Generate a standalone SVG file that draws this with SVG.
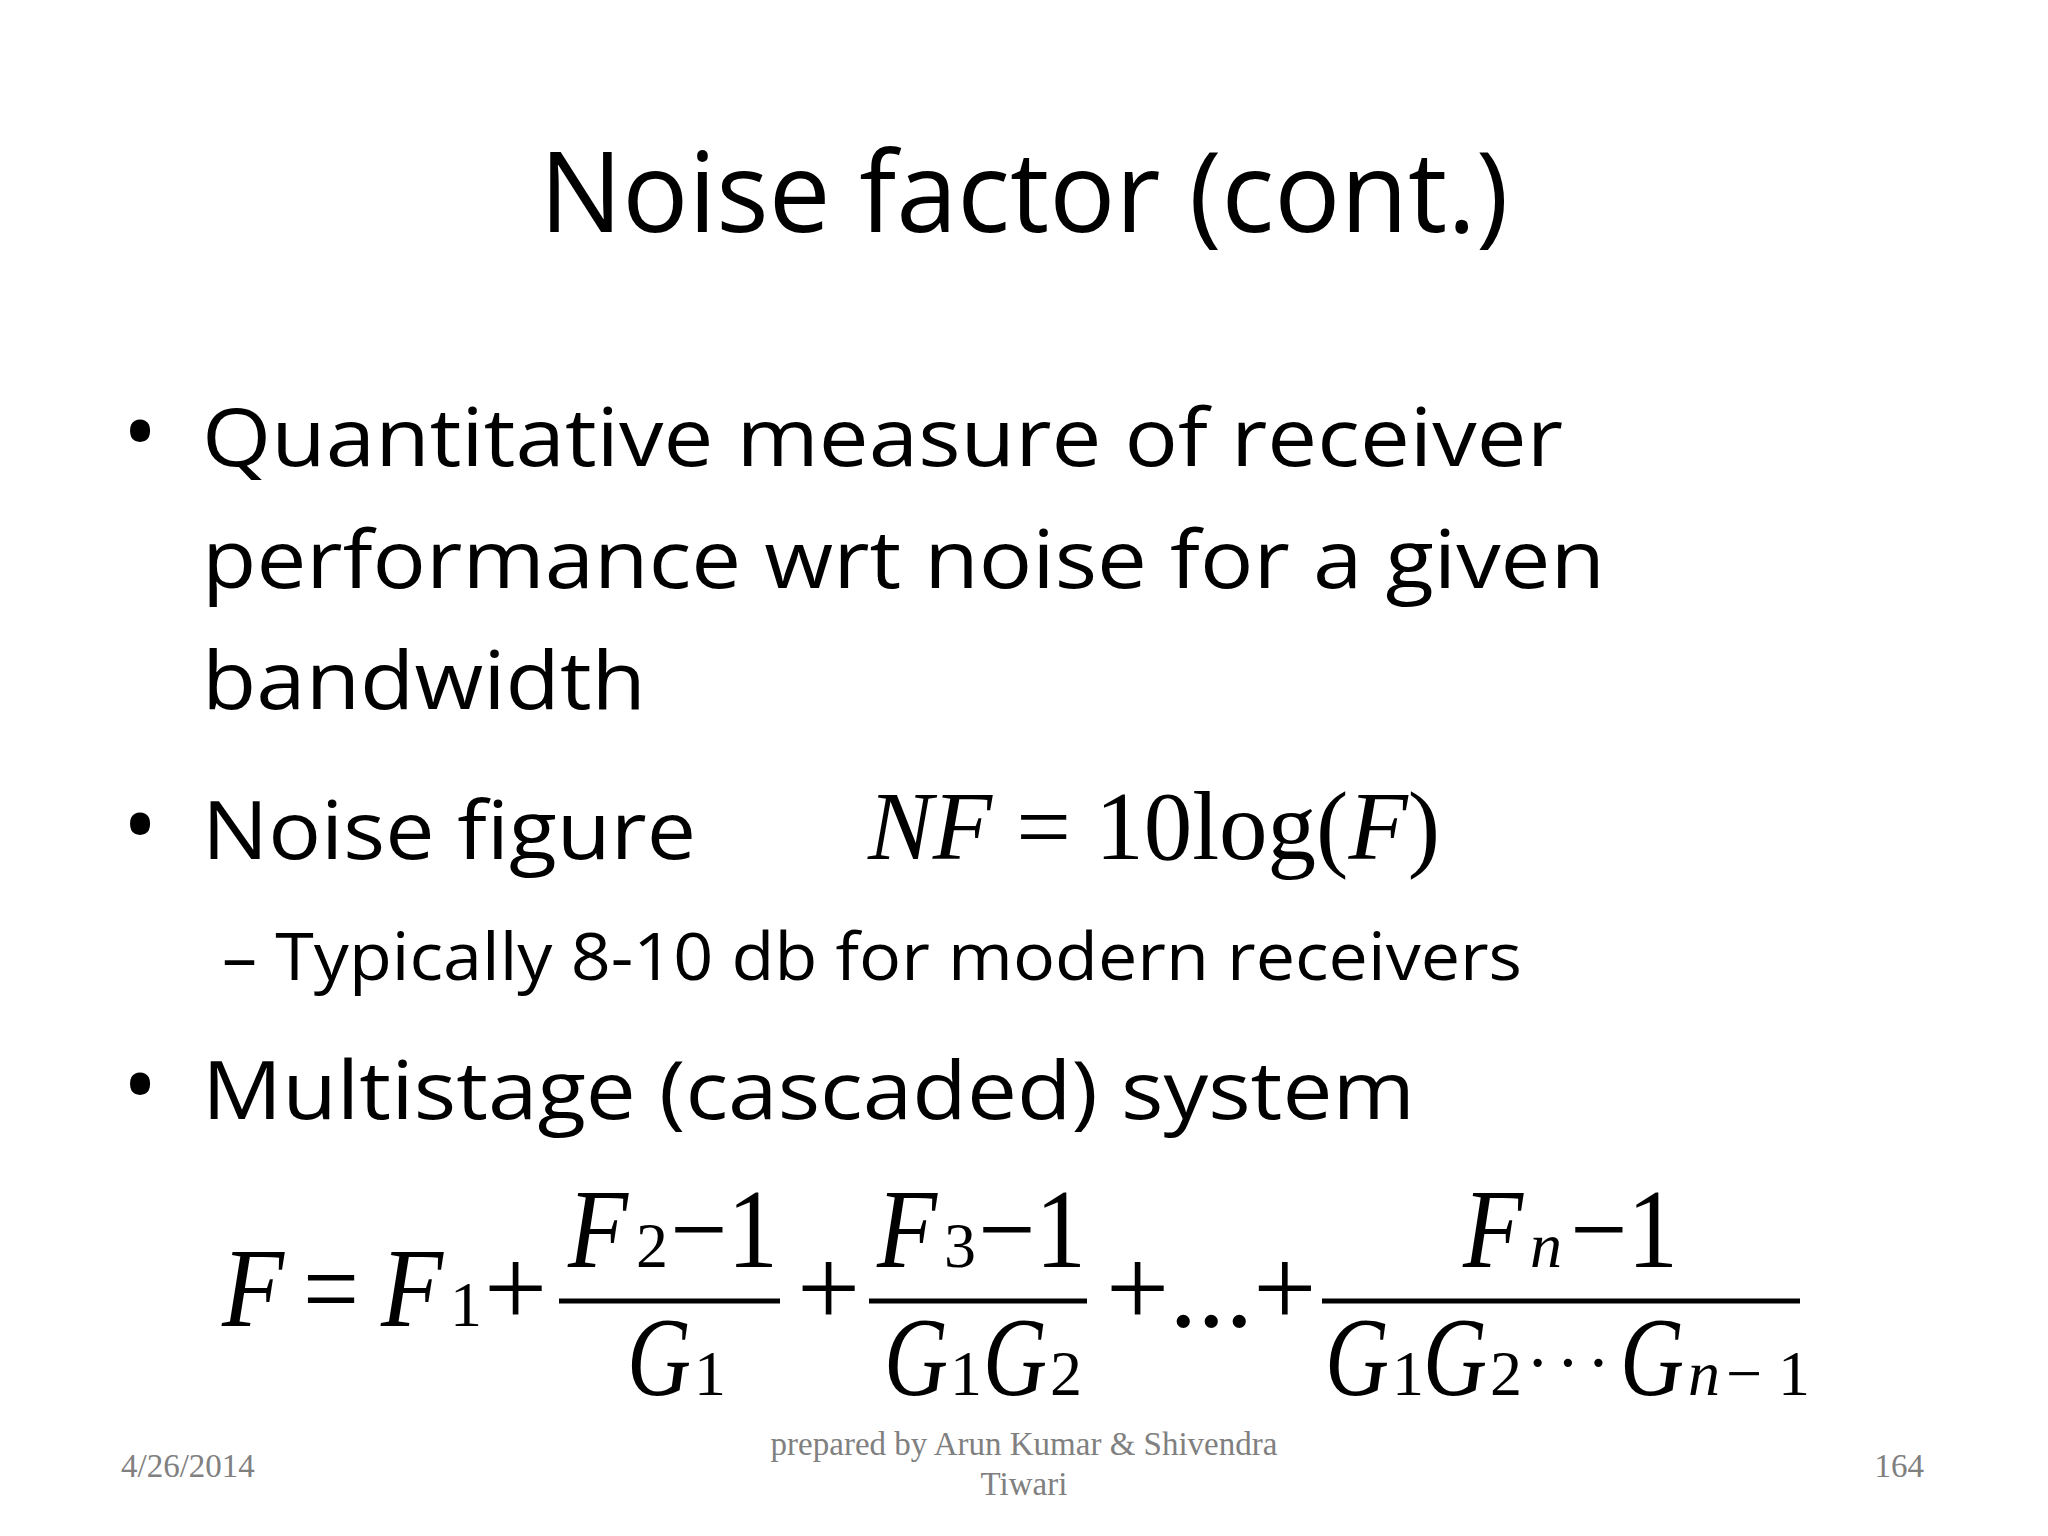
<svg xmlns="http://www.w3.org/2000/svg" width="2048" height="1536" viewBox="0 0 2048 1536">
<style>
.t{font-family:"Open Sans","Liberation Sans",sans-serif;fill:#000}
.m{font-family:"Liberation Serif",serif;fill:#000}
.i{font-style:italic}
.f{font-family:"Liberation Serif",serif;fill:#808080;font-size:33px}
</style>
<rect width="2048" height="1536" fill="#fff"/>
<g id="title"><text class="t" x="1024" y="232" font-size="112" text-anchor="middle" textLength="969" lengthAdjust="spacingAndGlyphs">Noise factor (cont.)</text></g>
<g id="bullets">
<text class="t" x="122" y="466" font-size="96">•</text>
<text class="t" x="202" y="466" font-size="80" textLength="1361" lengthAdjust="spacingAndGlyphs">Quantitative measure of receiver</text>
<text class="t" x="202" y="588" font-size="80" textLength="1403" lengthAdjust="spacingAndGlyphs">performance wrt noise for a given</text>
<text class="t" x="202" y="709" font-size="80" textLength="444" lengthAdjust="spacingAndGlyphs">bandwidth</text>
<text class="t" x="122" y="859" font-size="96">•</text>
<text class="t" x="202" y="859" font-size="80" textLength="494" lengthAdjust="spacingAndGlyphs">Noise figure</text>
<text class="t" x="222" y="980" font-size="66" textLength="1300" lengthAdjust="spacingAndGlyphs">– Typically 8-10 db for modern receivers</text>
<text class="t" x="122" y="1119" font-size="96">•</text>
<text class="t" x="202" y="1119" font-size="80" textLength="1213" lengthAdjust="spacingAndGlyphs">Multistage (cascaded) system</text>
</g>
<g id="nf"><text class="m" x="868" y="859" font-size="98" textLength="572" lengthAdjust="spacingAndGlyphs"><tspan class="i">NF</tspan> = 10log(<tspan class="i">F</tspan>)</text></g>
<g id="formula" font-size="112">
<text class="m i" x="222" y="1326" textLength="62" lengthAdjust="spacingAndGlyphs">F</text>
<text class="m" x="303" y="1326" textLength="56" lengthAdjust="spacingAndGlyphs">=</text>
<text class="m i" x="381" y="1326" textLength="62" lengthAdjust="spacingAndGlyphs">F</text>
<text class="m" x="450" y="1326" font-size="64">1</text>
<text class="m" x="484" y="1326">+</text>
<text class="m i" x="568" y="1267" textLength="60" lengthAdjust="spacingAndGlyphs">F</text>
<text class="m" x="636" y="1267" font-size="64">2</text>
<text class="m" x="670" y="1267" textLength="108" lengthAdjust="spacingAndGlyphs">−1</text>
<line x1="559" y1="1301" x2="780" y2="1301" stroke="#000" stroke-width="5"/>
<text class="m i" x="627" y="1395" textLength="64" lengthAdjust="spacingAndGlyphs">G</text>
<text class="m" x="694" y="1395" font-size="64">1</text>
<text class="m" x="797" y="1326">+</text>
<text class="m i" x="877" y="1267" textLength="60" lengthAdjust="spacingAndGlyphs">F</text>
<text class="m" x="944" y="1267" font-size="64">3</text>
<text class="m" x="978" y="1267" textLength="108" lengthAdjust="spacingAndGlyphs">−1</text>
<line x1="869" y1="1301" x2="1087" y2="1301" stroke="#000" stroke-width="5"/>
<text class="m i" x="884" y="1395" textLength="64" lengthAdjust="spacingAndGlyphs">G</text>
<text class="m" x="950" y="1395" font-size="64">1</text>
<text class="m i" x="983" y="1395" textLength="64" lengthAdjust="spacingAndGlyphs">G</text>
<text class="m" x="1050" y="1395" font-size="64">2</text>
<text class="m" x="1106" y="1326">+...+</text>
<text class="m i" x="1463" y="1267" textLength="60" lengthAdjust="spacingAndGlyphs">F</text>
<text class="m i" x="1530" y="1267" font-size="64">n</text>
<text class="m" x="1570" y="1267" textLength="108" lengthAdjust="spacingAndGlyphs">−1</text>
<line x1="1322" y1="1301" x2="1800" y2="1301" stroke="#000" stroke-width="5"/>
<text class="m i" x="1325" y="1395" textLength="64" lengthAdjust="spacingAndGlyphs">G</text>
<text class="m" x="1392" y="1395" font-size="64">1</text>
<text class="m i" x="1423" y="1395" textLength="64" lengthAdjust="spacingAndGlyphs">G</text>
<text class="m" x="1490" y="1395" font-size="64">2</text>
<text class="m" x="1526" y="1386" font-size="70" textLength="84" lengthAdjust="spacing">· · ·</text>
<text class="m i" x="1620" y="1395" textLength="64" lengthAdjust="spacingAndGlyphs">G</text>
<text class="m i" x="1688" y="1395" font-size="64">n</text>
<text class="m" x="1726" y="1395" font-size="64">− 1</text>
</g>
<g id="footer">
<text class="f" x="121" y="1477">4/26/2014</text>
<text class="f" x="1024" y="1455" text-anchor="middle">prepared by Arun Kumar &amp; Shivendra</text>
<text class="f" x="1024" y="1495" text-anchor="middle">Tiwari</text>
<text class="f" x="1924" y="1477" text-anchor="end">164</text>
</g>
</svg>
